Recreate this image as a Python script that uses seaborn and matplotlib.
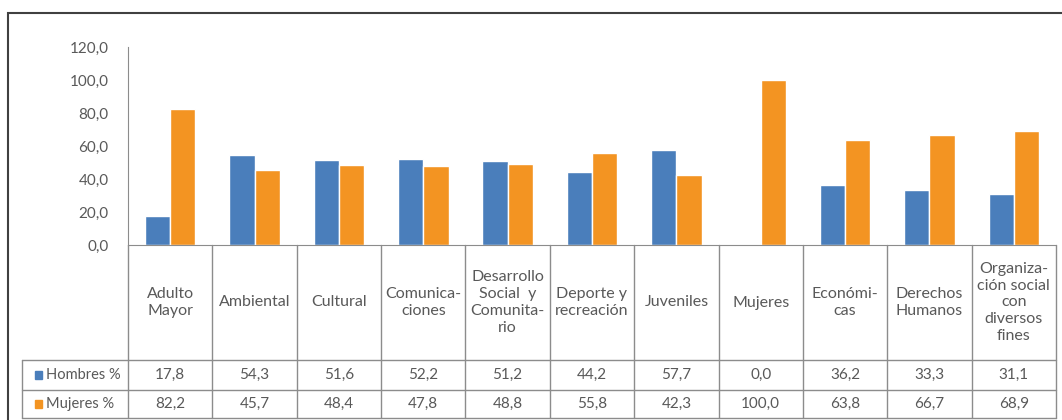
import numpy as np
import pandas as pd
import matplotlib
matplotlib.use('Agg')
import matplotlib.pyplot as plt
import matplotlib.transforms as mtransforms
from matplotlib.patches import Rectangle
import seaborn as sns

# datos
categorias = ['Adulto\nMayor', 'Ambiental', 'Cultural', 'Comunica-\nciones',
              'Desarrollo\nSocial  y\nComunita-\nrio', 'Deporte y\nrecreación',
              'Juveniles', 'Mujeres', 'Económi-\ncas', 'Derechos\nHumanos',
              'Organiza-\nción social\ncon\ndiversos\nfines']
hombres = [17.8, 54.3, 51.6, 52.2, 51.2, 44.2, 57.7, 0.0, 36.2, 33.3, 31.1]
mujeres = [82.2, 45.7, 48.4, 47.8, 48.8, 55.8, 42.3, 100.0, 63.8, 66.7, 68.9]
series = ['Hombres %', 'Mujeres %']
colores = ['#4A7EBB', '#F39422']

sns.set_style('white')
plt.rcParams['font.family'] = ['Lato', 'DejaVu Sans']

df = pd.DataFrame({'cat': categorias * 2,
                   'serie': [series[0]] * len(categorias) + [series[1]] * len(categorias),
                   'valor': hombres + mujeres})

W, H = 1062, 420
fig = plt.figure(figsize=(W / 100, H / 100), dpi=100)
ax = fig.add_axes([128 / W, 1 - 245 / H, (1056 - 128) / W, (245 - 47) / H])

sns.barplot(data=df, x='cat', y='valor', hue='serie', palette=colores,
            width=0.6, saturation=1, legend=False, ax=ax, errorbar=None)

gris = '#595959'
linea = '#8C8C8C'
ax.set_xlim(-0.5, len(categorias) - 0.5)
ax.set_ylim(0, 120)
ax.set_yticks(np.arange(0, 121, 20))
ax.set_yticklabels([f'{v:.1f}'.replace('.', ',') for v in np.arange(0, 121, 20)],
                   color=gris, fontsize=11)
ax.tick_params(axis='y', length=0, pad=14)
ax.set_xticks([])
ax.set_xlabel('')
ax.set_ylabel('')
for s in ['top', 'right']:
    ax.spines[s].set_visible(False)
ax.spines['left'].set_color(linea)
ax.spines['bottom'].set_color(linea)

# tabla de datos
tr = mtransforms.blended_transform_factory(ax.transData, fig.transFigure)
y0 = 1 - 245 / H
y1 = 1 - 360 / H
y2 = 1 - 390 / H
y3 = 1 - 418 / H
for b in np.arange(-0.5, len(categorias), 1.0):
    ax.plot([b, b], [y0, y3], color=linea, lw=1, transform=tr, clip_on=False)
for yy in [y1, y2, y3]:
    fig.add_artist(plt.Line2D([22 / W, 1056 / W], [yy, yy], color=linea, lw=1))
fig.add_artist(plt.Line2D([22 / W, 22 / W], [y1, y3], color=linea, lw=1))

for i, c in enumerate(categorias):
    ax.text(i, (y0 + y1) / 2, c, transform=tr, ha='center', va='center',
            color=gris, fontsize=11.5, linespacing=1.25)
    ax.text(i, (y1 + y2) / 2, f'{hombres[i]:.1f}'.replace('.', ','), transform=tr,
            ha='center', va='center', color=gris, fontsize=11)
    ax.text(i, (y2 + y3) / 2, f'{mujeres[i]:.1f}'.replace('.', ','), transform=tr,
            ha='center', va='center', color=gris, fontsize=11)

for k, (ya, yb) in enumerate([(y1, y2), (y2, y3)]):
    ym = (ya + yb) / 2
    fig.patches.append(Rectangle((35 / W, ym - 4 / H), 7 / W, 8 / H,
                                 color=colores[k], transform=fig.transFigure))
    fig.text(46 / W, ym, series[k], ha='left', va='center', color=gris, fontsize=10.5)

# marco exterior
fig.patches.append(Rectangle((8 / W, -0.05), 1.1, 1 - 13 / H + 0.05, fill=False,
                             edgecolor='#404040', lw=1.5, transform=fig.transFigure))

fig.savefig('out.png', dpi=100)
